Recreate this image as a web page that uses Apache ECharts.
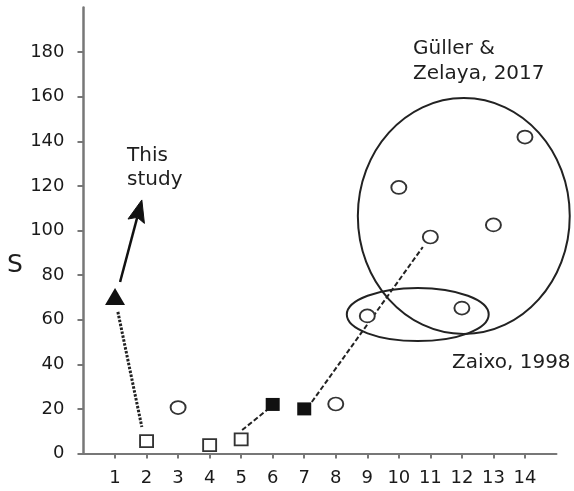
<!DOCTYPE html>
<html>
<head>
<meta charset="utf-8">
<script src="https://cdn.jsdelivr.net/npm/echarts@6/dist/echarts.min.js"></script>
<style>
html,body{margin:0;padding:0;background:#fff;}
#chart{width:574px;height:491px;}
</style>
</head>
<body>
<div id="chart"></div>
<script>
// ---- data ----
const xTicks = [1,2,3,4,5,6,7,8,9,10,11,12,13,14];
const yTicks = [0,20,40,60,80,100,120,140,160,180];
const yAxisName = 'S';
const thisStudy = [[1, 70.4]];
const openSquares = [[2, 5.6],[4, 3.8],[5, 6.3]];
const filledSquares = [[6, 22],[7, 20]];
const openCircles = [[3, 20.6],[8, 22.2],[9, 61.7],[10, 119.3],[11, 97.1],[12, 65.2],[13, 102.5],[14, 141.9]];
// connectors: x1, y1, x2, y2, style (0 dotted, 1 dashed)
const connectors = [[1.09, 63.5, 1.85, 11.9, 0],[5.03, 10.5, 5.82, 19.5, 1],[7.24, 23.1, 10.76, 92.6, 1]];
// arrow: x1, y1, x2 (tip), y2 (tip)
const arrows = [[1.16, 76.9, 1.85, 113.7]];
// group ellipses: cx, cy, rx, ry (data units)
const groupEllipses = [[12.06, 106.5, 3.36, 52.9],[10.6, 62.3, 2.25, 11.9]];
const labelGuller = ['Güller &', 'Zelaya, 2017'];
const labelThisStudy = ['This', 'study'];
const labelZaixo = ['Zaixo, 1998'];

const FONT = '"DejaVu Sans", Verdana, sans-serif';
const chart = echarts.init(document.getElementById('chart'), null, {renderer: 'canvas'});

function txt(text, x, y, size) {
  return {type: 'text', x: x, y: y, silent: true,
    style: {text: text, fill: '#1e1e1e', font: size + 'px ' + FONT, align: 'left', verticalAlign: 'middle'}};
}

const option = {
  backgroundColor: '#fff',
  animation: false,
  grid: {left: 83.5, right: 17.5, top: 7.5, bottom: 37.5, containLabel: false, outerBoundsMode: 'none'},
  xAxis: {
    type: 'value', min: 0, max: 15, interval: 1,
    axisLine: {show: true, lineStyle: {color: '#777', width: 2}},
    axisTick: {show: true, customValues: xTicks, length: 5, lineStyle: {color: '#777', width: 2}},
    axisLabel: {show: true, customValues: xTicks, color: '#1a1a1a', fontSize: 18, fontFamily: FONT, margin: 16},
    splitLine: {show: false}
  },
  yAxis: {
    type: 'value', min: 0, max: 200, interval: 20,
    axisLine: {show: true, lineStyle: {color: '#777', width: 2.5}},
    axisTick: {show: true, customValues: yTicks, length: 6, lineStyle: {color: '#777', width: 2}},
    axisLabel: {show: true, customValues: yTicks, color: '#1a1a1a', fontSize: 18, fontFamily: FONT, margin: 19},
    splitLine: {show: false}
  },
  graphic: [
    txt(yAxisName, 7, 265, 25),
    txt(labelGuller[0], 413, 49, 20),
    txt(labelGuller[1], 413, 74, 20),
    txt(labelThisStudy[0], 127, 156, 20),
    txt(labelThisStudy[1], 127, 180, 20),
    txt(labelZaixo[0], 452, 363, 20)
  ],
  series: [
    {
      type: 'custom', name: 'groups', coordinateSystem: 'cartesian2d', silent: true, z: 1,
      data: groupEllipses,
      encode: {x: 0, y: 1},
      renderItem: function (params, api) {
        const c = api.coord([api.value(0), api.value(1)]);
        const s = api.size([api.value(2), api.value(3)]);
        return {type: 'ellipse', shape: {cx: c[0], cy: c[1], rx: s[0], ry: s[1]},
          style: {fill: null, stroke: '#222', lineWidth: 2}};
      }
    },
    {
      type: 'custom', name: 'connectors', coordinateSystem: 'cartesian2d', silent: true, z: 2,
      data: connectors,
      encode: {x: [0, 2], y: [1, 3]},
      renderItem: function (params, api) {
        const a = api.coord([api.value(0), api.value(1)]);
        const b = api.coord([api.value(2), api.value(3)]);
        const dotted = api.value(4) === 0;
        return {type: 'line', shape: {x1: a[0], y1: a[1], x2: b[0], y2: b[1]},
          style: {stroke: '#222', lineWidth: dotted ? 3 : 2, lineDash: dotted ? [2.5, 1.5] : [5, 2.5]}};
      }
    },
    {
      type: 'custom', name: 'arrow', coordinateSystem: 'cartesian2d', silent: true, z: 2,
      data: arrows,
      encode: {x: [0, 2], y: [1, 3]},
      renderItem: function (params, api) {
        const a = api.coord([api.value(0), api.value(1)]);
        const b = api.coord([api.value(2), api.value(3)]);
        const dx = b[0] - a[0], dy = b[1] - a[1];
        const L = Math.sqrt(dx * dx + dy * dy);
        const ux = dx / L, uy = dy / L, px = -uy, py = ux;
        const hl = 22, hw = 8.5, notch = 4;
        const bx = b[0] - ux * hl, by = b[1] - uy * hl;
        const nx = b[0] - ux * (hl - notch), ny = b[1] - uy * (hl - notch);
        return {type: 'group', children: [
          {type: 'line', shape: {x1: a[0], y1: a[1], x2: nx, y2: ny}, style: {stroke: '#111', lineWidth: 2.5}},
          {type: 'polygon', shape: {points: [[b[0], b[1]], [bx + px * hw, by + py * hw], [nx, ny], [bx - px * hw, by - py * hw]]},
            style: {fill: '#111', stroke: '#111', lineWidth: 1}}
        ]};
      }
    },
    {
      type: 'scatter', name: 'open circles', data: openCircles, z: 3,
      symbol: 'circle', symbolSize: [15, 13],
      itemStyle: {color: '#fff', borderColor: '#333', borderWidth: 1.8, opacity: 1}
    },
    {
      type: 'scatter', name: 'open squares', data: openSquares, z: 3,
      symbol: 'rect', symbolSize: [13, 12],
      itemStyle: {color: '#fff', borderColor: '#333', borderWidth: 1.8, opacity: 1}
    },
    {
      type: 'scatter', name: 'filled squares', data: filledSquares, z: 3,
      symbol: 'rect', symbolSize: [14, 13],
      itemStyle: {color: '#111', borderColor: '#111', borderWidth: 0, opacity: 1}
    },
    {
      type: 'scatter', name: 'this study', data: thisStudy, z: 3,
      symbol: 'triangle', symbolSize: [20, 17],
      itemStyle: {color: '#111', opacity: 1}
    }
  ]
};
chart.setOption(option);
</script>
</body>
</html>
